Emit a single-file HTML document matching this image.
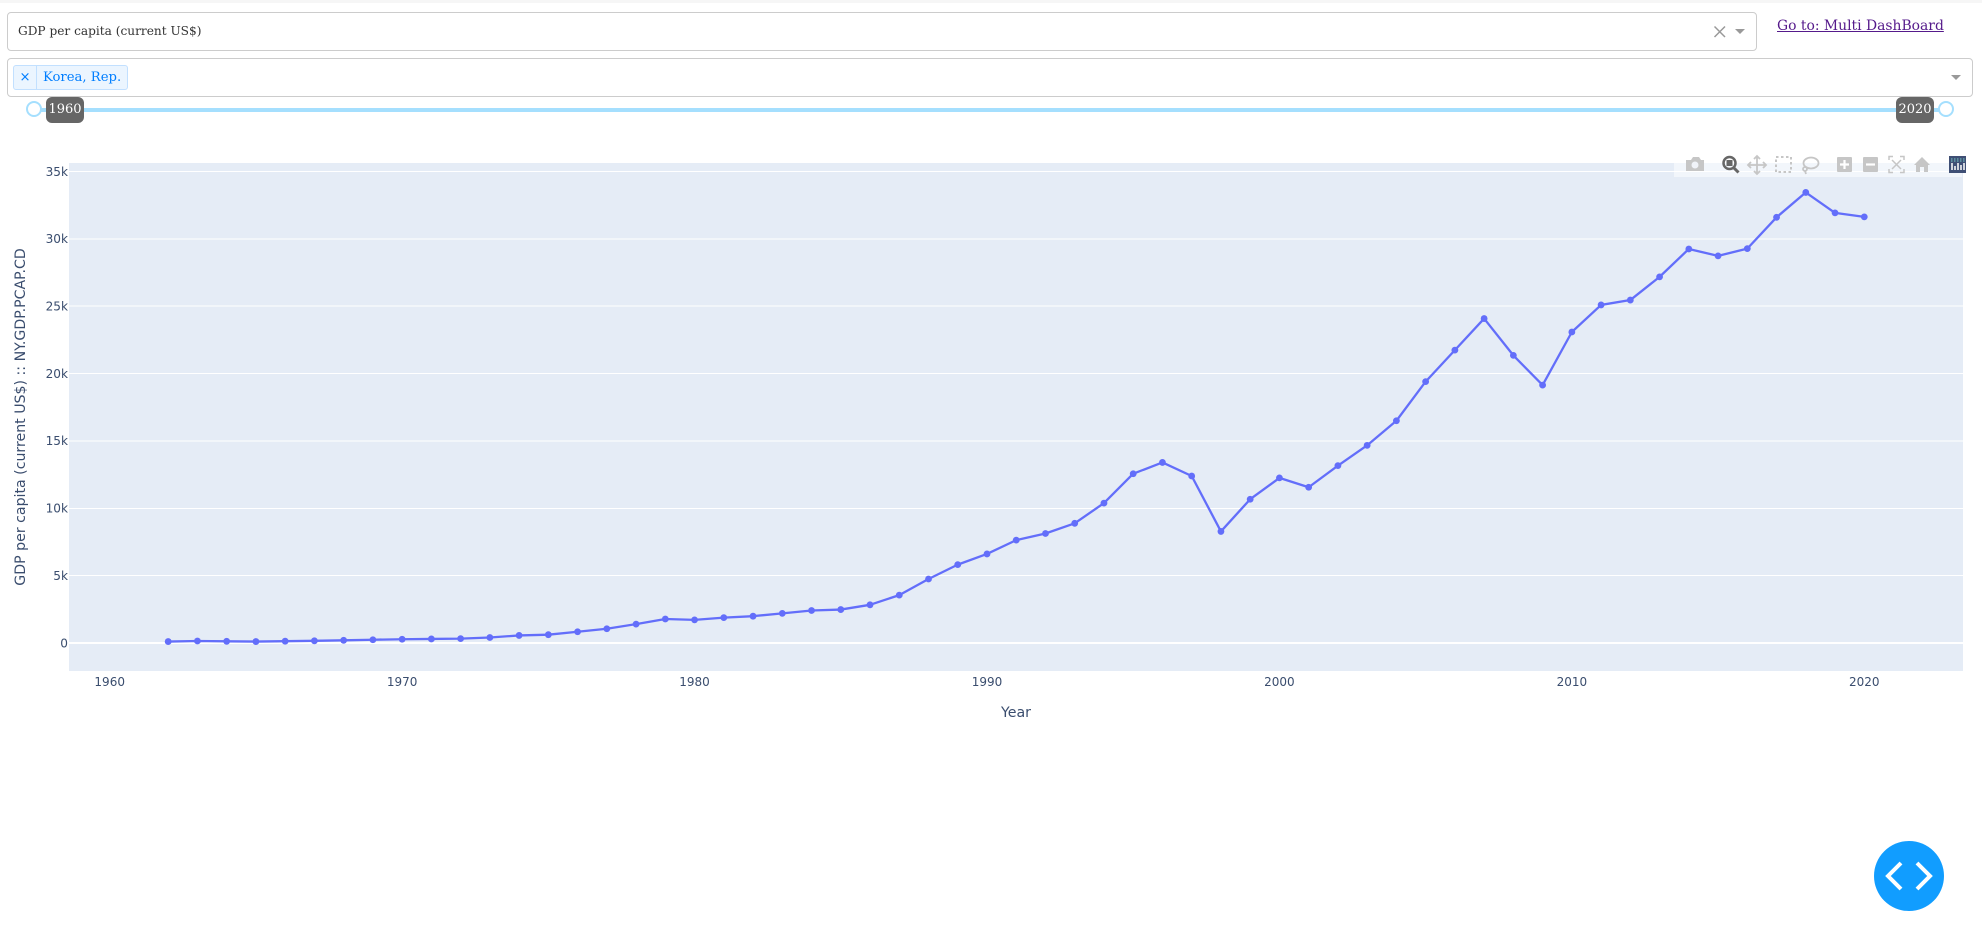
<!DOCTYPE html>
<html lang="en">
<head>
<meta charset="utf-8">
<title>GDP per capita dashboard</title>
<style>
html,body{margin:0;padding:0;background:#fff;width:1982px;height:949px;overflow:hidden;}
body{position:relative;font-family:"DejaVu Serif","Liberation Serif",serif;}
.abs{position:absolute;box-sizing:border-box;}
.dd{border:1px solid #ccc;border-radius:4px;background:#fff;}
.tip{background:#666;color:#fff;border-radius:6px;font-size:13px;line-height:26px;text-align:center;width:38px;height:26px;}
.handle{width:16px;height:16px;border:2px solid #a5dffe;border-radius:50%;background:#fff;}
</style>
</head>
<body>
<div class="abs" style="left:0;top:0;width:1982px;height:3px;background:#f6f6f6"></div>

<div class="abs dd" style="left:7px;top:12px;width:1750px;height:39px">
  <span class="abs" style="left:10px;top:8px;font-size:12.15px;line-height:20px;color:#333;white-space:nowrap">GDP per capita (current US$)</span>
  <svg class="abs" style="left:1704px;top:0" width="44" height="38">
    <path d="M2.500 13.500 L13 24 M13 13.500 L2.500 24" stroke="#999" stroke-width="1.500" fill="none"/>
    <path d="M23 16 L33 16 L28 21 Z" fill="#999"/>
  </svg>
</div>

<a class="abs" href="#" style="left:1777px;top:16px;font-size:13.9px;line-height:20px;color:#551a8b;text-decoration:underline;white-space:nowrap">Go to: Multi DashBoard</a>

<div class="abs dd" style="left:7px;top:58px;width:1966px;height:39px">
  <div class="abs" style="left:5px;top:6px;width:115px;height:25px;background:#ebf5ff;border:1px solid #c2e0ff;border-radius:3px;color:#007eff;font-size:13.2px;line-height:23px">
    <span class="abs" style="left:0;top:0;width:23px;height:23px;border-right:1px solid #c2e0ff;text-align:center;font-family:'DejaVu Sans',sans-serif">×</span>
    <span class="abs" style="left:29px;top:0;white-space:nowrap">Korea, Rep.</span>
  </div>
  <svg class="abs" style="left:1941px;top:11px" width="16" height="16"><path d="M2 5 L12 5 L7 10 Z" fill="#999"/></svg>
</div>

<div class="abs" style="left:34px;top:108px;width:1912px;height:4px;background:#a5dffe"></div>
<div class="abs handle" style="left:26px;top:101px"></div>
<div class="abs handle" style="left:1938px;top:101px"></div>
<div class="abs tip" style="left:46px;top:97px">1960</div>
<div class="abs tip" style="left:1896px;top:97px">2020</div>

<svg id="chart" class="abs" style="left:0;top:0" width="1982" height="949" font-family="'DejaVu Sans','Liberation Sans',sans-serif">
  <rect x="69" y="163" width="1894" height="508" fill="#e5ecf6"/>
  <g id="grid" shape-rendering="crispEdges"></g>
  <g id="series"></g>
  <g id="xlabels" font-size="12" fill="#3a4d6e" text-anchor="middle"></g>
  <g id="ylabels" font-size="12.1" fill="#3a4d6e" text-anchor="end"></g>
  <text x="1016" y="717" font-size="14.2" fill="#3a4d6e" text-anchor="middle">Year</text>
  <text transform="translate(25,417) rotate(-90)" font-size="14.15" fill="#3a4d6e" text-anchor="middle">GDP per capita (current US$) :: NY.GDP.PCAP.CD</text>

  <g>
    <rect x="1674" y="150" width="288" height="27" fill="#fff" fill-opacity="0.5"/>
    <g fill="#c6c6c6">
      <path d="M1686 160 h5 l2 -3 h6 l2 3 h3 v11 h-18 Z"/><circle cx="1695" cy="165" r="3.500" fill="#f0f3f9"/>
    </g>
    <g>
      <circle cx="1729.500" cy="163" r="6" fill="none" stroke="#666" stroke-width="2.500"/><rect x="1726.500" y="160" width="6" height="6" fill="#666"/>
      <path d="M1734 168 L1738.500 172.500" stroke="#666" stroke-width="3"/>
    </g>
    <g stroke="#c6c6c6" stroke-width="1.800" fill="none">
      <path d="M1749 165 H1765 M1757 157 V173 M1754 159 L1757 156 L1760 159 M1754 171 L1757 174 L1760 171 M1751 162 L1748 165 L1751 168 M1763 162 L1766 165 L1763 168"/>
    </g>
    <rect x="1776" y="157" width="15" height="15" fill="none" stroke="#c6c6c6" stroke-width="2" stroke-dasharray="2.500 2.500"/>
    <g fill="none" stroke="#c6c6c6" stroke-width="1.800">
      <ellipse cx="1811" cy="163" rx="7.500" ry="5.500"/><circle cx="1805" cy="169" r="2"/><path d="M1805 171 L1806 174"/>
    </g>
    <g>
      <rect x="1837" y="157" width="15" height="15" rx="1" fill="#c6c6c6"/><path d="M1840 164.500 H1849 M1844.500 160 V169" stroke="#fff" stroke-width="2.200"/>
    </g>
    <g>
      <rect x="1863" y="157" width="15" height="15" rx="1" fill="#c6c6c6"/><path d="M1866 164.500 H1875" stroke="#fff" stroke-width="2.200"/>
    </g>
    <g fill="none" stroke="#c6c6c6" stroke-width="1.500">
      <path d="M1889 160 V156.500 H1893 M1900 156.500 H1904 V160 M1904 169 V172.500 H1900 M1893 172.500 H1889 V169 M1892 160 L1901 169 M1901 160 L1892 169"/>
    </g>
    <g fill="#c6c6c6">
      <path d="M1914 165 L1922 157 L1930 165 L1928 165 L1928 172 L1924 172 L1924 167 L1920 167 L1920 172 L1916 172 L1916 165 Z"/>
    </g>
    <g>
      <rect x="1949" y="156" width="17" height="17" fill="#3f4f75"/>
      <path d="M1952 163 V170 M1955 166 V170 M1958 163 V170 M1961 165 V170 M1964 163 V170" stroke="#fff" stroke-width="1.500"/>
      <path d="M1951 159 H1965 M1951 161 H1965" stroke="#6bb5b8" stroke-width="1.200" stroke-dasharray="1.500 1.500"/>
    </g>
  </g>
</svg>

<svg class="abs" style="left:1874px;top:841px" width="70" height="70">
  <circle cx="35" cy="35" r="35" fill="#119dff"/>
  <path d="M27 22 L14 35 L27 48" fill="none" stroke="#fff" stroke-width="4"/>
  <path d="M43 22 L56 35 L43 48" fill="none" stroke="#fff" stroke-width="4"/>
</svg>

<script>
var years = [1962,1963,1964,1965,1966,1967,1968,1969,1970,1971,1972,1973,1974,1975,1976,1977,1978,1979,1980,1981,1982,1983,1984,1985,1986,1987,1988,1989,1990,1991,1992,1993,1994,1995,1996,1997,1998,1999,2000,2001,2002,2003,2004,2005,2006,2007,2008,2009,2010,2011,2012,2013,2014,2015,2016,2017,2018,2019,2020];
var gdpValues = [106,146,124,108,133,161,198,243,279,301,324,406,563,617,834,1056,1401,1784,1715,1883,1992,2199,2413,2482,2835,3555,4749,5817,6610,7637,8127,8885,10385,12565,13403,12398,8282,10672,12257,11561,13165,14673,16496,19403,21743,24086,21350,19144,23087,25096,25459,27180,29250,28737,29274,31601,33447,31929,31631];
var xTicks = [1960,1970,1980,1990,2000,2010,2020];
var yTicks = [0,5000,10000,15000,20000,25000,30000,35000];
var yTickLabels = ['0','5k','10k','15k','20k','25k','30k','35k'];

var NS = 'http://www.w3.org/2000/svg';
function xScale(year){ return 109.7 + (year - 1960) * 29.243; }
function yScale(value){ return 643 - value * 0.013471; }

function make(tag, attrs, parent){
  var el = document.createElementNS(NS, tag);
  for (var k in attrs) { el.setAttribute(k, attrs[k]); }
  parent.appendChild(el);
  return el;
}

var grid = document.getElementById('grid');
var series = document.getElementById('series');
var xlabels = document.getElementById('xlabels');
var ylabels = document.getElementById('ylabels');

yTicks.forEach(function(tick, i){
  var line = make('line', {x1:69, x2:1963, y1:yScale(tick), y2:yScale(tick), stroke:'#fff', 'stroke-width': tick === 0 ? 2 : 1}, grid);
  
  
  var label = make('text', {x:68, y:yScale(tick) + 4.3}, ylabels);
  label.textContent = yTickLabels[i];
  
  
});

xTicks.forEach(function(tick){
  var label = make('text', {x:xScale(tick), y:686}, xlabels);
  label.textContent = String(tick);
  
  
});

var pts = years.map(function(year, i){ return xScale(year) + ',' + yScale(gdpValues[i]); }).join(' ');
var path = make('polyline', {points:pts, fill:'none', stroke:'#636efa', 'stroke-width':2.3, 'stroke-linejoin':'round'}, series);



years.forEach(function(year, i){
  var dot = make('circle', {cx:xScale(year), cy:yScale(gdpValues[i]), r:3.4, fill:'#636efa'}, series);
  
  
});
</script>
</body>
</html>
